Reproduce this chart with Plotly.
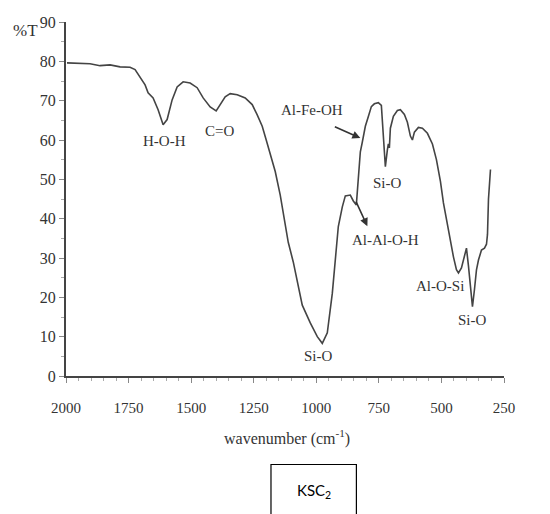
import plotly.graph_objects as go

# Spectrum
wavenumber = [1996, 1904, 1864, 1824, 1784, 1744, 1724, 1704, 1684, 1672, 1652, 1632, 1612,
              1596, 1576, 1556, 1532, 1504, 1476, 1452, 1424, 1400, 1384, 1364, 1344, 1316,
              1284, 1256, 1236, 1216, 1200, 1184, 1164, 1144, 1124, 1112, 1092, 1072, 1056,
              1024, 996, 976, 956, 936, 924, 912, 896, 884, 864, 852, 840, 832, 824, 816,
              804, 792, 780, 768, 752, 740, 732, 724, 716, 712, 708, 704, 692, 676, 664,
              648, 636, 624, 616, 608, 592, 576, 556, 536, 520, 504, 492, 472, 452, 440,
              432, 420, 408, 400, 392, 384, 376, 368, 360, 352, 340, 328, 320, 316, 312, 304]
transmittance = [79.6, 79.4, 78.9, 79.1, 78.6, 78.5, 77.9, 76.0, 74.0, 72.0, 70.7, 67.7, 63.9,
                 65.2, 70.2, 73.5, 74.8, 74.5, 73.3, 70.7, 68.4, 67.4, 69.0, 71.0, 71.8, 71.5,
                 70.7, 69.0, 66.4, 63.5, 60.0, 56.5, 52.0, 46.0, 38.0, 34.0, 29.0, 23.0, 18.0,
                 13.5, 10.0, 8.3, 11.0, 21.0, 29.0, 38.0, 43.0, 45.8, 46.0, 44.5, 43.5, 50.0, 57.0, 59.5,
                 63.5, 66.0, 68.5, 69.2, 69.5, 68.8, 62.0, 53.2, 57.5, 59.0, 58.0, 63.0, 66.0, 67.5, 67.7,
                 66.5, 64.5, 61.0, 60.0, 62.0, 63.2, 63.0, 61.7, 59.0, 55.0, 49.5, 44.0, 37.0, 30.3, 27.0,
                 26.2, 27.5, 31.0, 32.5, 28.0, 22.0, 17.6, 22.0, 27.0, 29.5, 32.0, 32.5, 33.5, 36.0, 45.0, 52.5]

x_ticks = [2000, 1750, 1500, 1250, 1000, 750, 500, 250]
y_ticks = [0, 10, 20, 30, 40, 50, 60, 70, 80, 90]

band_labels = ["H-O-H", "C=O", "Al-Fe-OH", "Si-O", "Al-Al-O-H", "Al-O-Si", "Si-O", "Si-O"]
band_x = [1608, 1388, 1016, 716, 724, 504, 376, 992]
band_y = [59.7, 62.3, 67.6, 49.1, 34.6, 22.9, 14.2, 5.1]

SERIF = "Liberation Serif"
TXT = "#333333"

fig = go.Figure()
fig.add_trace(go.Scatter(x=wavenumber, y=transmittance, mode="lines",
                         line=dict(color="#444444", width=1.6), showlegend=False,
                         hoverinfo="skip"))

for lab, bx, by in zip(band_labels, band_x, band_y):
    fig.add_annotation(x=bx, y=by, text=lab, showarrow=False,
                       xanchor="center", yanchor="middle",
                       font=dict(family=SERIF, size=15, color=TXT))

# arrows
fig.add_annotation(x=824, y=60.5, ax=-27, ay=-12, text="", showarrow=True,
                   arrowhead=2, arrowsize=1, arrowwidth=1.6, arrowcolor="#333333")
fig.add_annotation(x=796, y=38.1, ax=-12, ay=-26, text="", showarrow=True,
                   arrowhead=2, arrowsize=1, arrowwidth=1.6, arrowcolor="#333333")

# %T label
fig.add_annotation(xref="paper", yref="paper", x=-0.06, y=0.975, text="%T",
                   xanchor="right", yanchor="middle",
                   showarrow=False, font=dict(family=SERIF, size=17, color=TXT))

# x title
fig.add_annotation(xref="paper", yref="paper", x=0.505, y=-0.175,
                   xanchor="center", yanchor="middle",
                   text="wavenumber (cm<sup>-1</sup>)", showarrow=False,
                   font=dict(family=SERIF, size=16, color=TXT))

# KSC2 box
fig.add_shape(type="rect", xref="paper", yref="paper", x0=0.468, x1=0.663,
              y0=-0.25, y1=-0.42, line=dict(color="black", width=1.2))
fig.add_annotation(xref="paper", yref="paper", x=0.566, y=-0.325,
                   xanchor="center", yanchor="middle",
                   text="KSC<sub>2</sub>", showarrow=False,
                   font=dict(family="Lato", size=15, color="black"))

fig.update_xaxes(range=[2000, 250], tickvals=x_ticks, ticks="outside", ticklen=5,
                 tickwidth=1, tickcolor="#888888", showline=True, linecolor="#444444",
                 linewidth=2, showgrid=False, zeroline=False, ticklabelstandoff=12,
                 tickfont=dict(family=SERIF, size=15, color=TXT),
                 minor=dict(dtick=50, tick0=0, ticks="outside", ticklen=3,
                            tickcolor="#aaaaaa", showgrid=False))
fig.update_yaxes(range=[0, 90], tickvals=y_ticks, ticks="outside", ticklen=5,
                 tickwidth=1, tickcolor="#888888", showline=True, linecolor="#444444",
                 linewidth=2, showgrid=False, zeroline=False,
                 tickfont=dict(family=SERIF, size=16, color=TXT),
                 minor=dict(dtick=5, tick0=0, ticks="outside", ticklen=3,
                            tickcolor="#aaaaaa", showgrid=False))

fig.update_layout(width=550, height=514, margin=dict(l=66, r=46, t=22, b=138),
                  paper_bgcolor="white", plot_bgcolor="white")

fig.write_html("out.html")
